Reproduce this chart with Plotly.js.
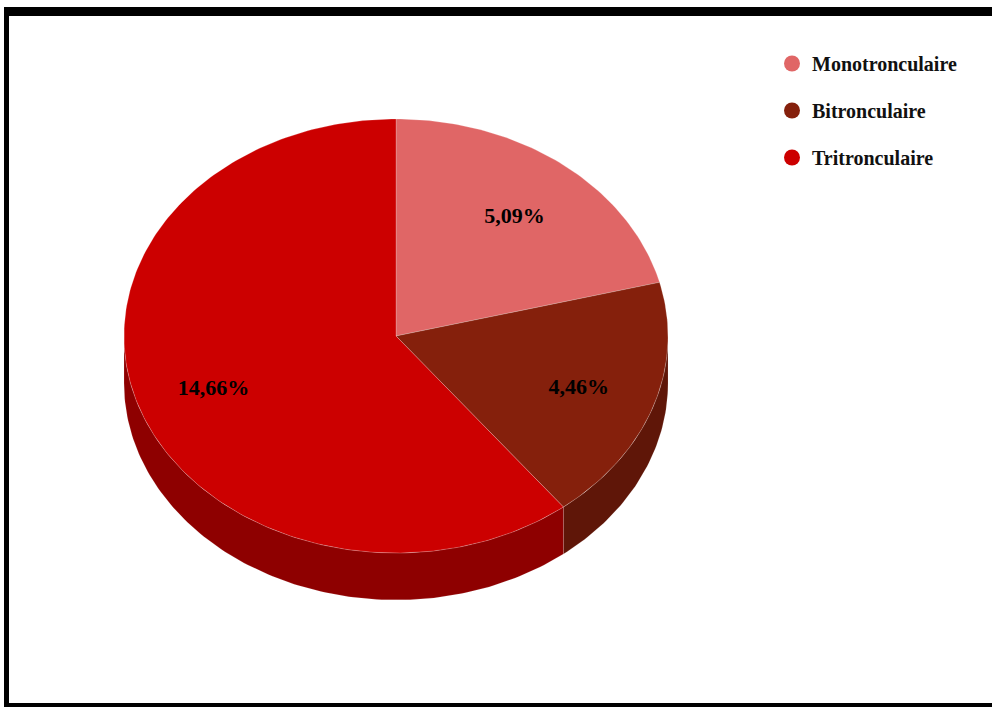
<!DOCTYPE html>
<html><head><meta charset="utf-8">
<script src="https://cdn.plot.ly/plotly-3.0.1.min.js"></script>
<style>html,body{margin:0;padding:0;background:#fff;}#chart{width:992px;height:707px;}</style>
</head><body><div id="chart"></div>
<script>
// ---- data ----
const categories = ["Monotronculaire", "Bitronculaire", "Tritronculaire"];
const values = [5.09, 4.46, 14.66];
const labelTexts = ["5,09%", "4,46%", "14,66%"];
const topColors = ["#e06666", "#85200c", "#cc0000"];
const sideColors = ["#a04848", "#5f1608", "#8e0000"];

// ---- geometry (pixel space) ----
const W = 992, H = 707;
const cx = 396, cy = 336, rx = 272, ry = 217, depth = 47;
const labelFrac = 0.71, labelDy = 3;

const total = values.reduce((a, b) => a + b, 0);
function pt(theta, dy) { // theta in degrees from 12 o'clock, clockwise
  const t = theta * Math.PI / 180;
  return [cx + rx * Math.sin(t), cy - ry * Math.cos(t) + (dy || 0)];
}
const sideTraces = [];
const topTraces = [];
let start = 0;
const labX = [], labY = [];
values.forEach((v, i) => {
  const sweep = v / total * 360;
  const end = start + sweep;
  const xs = [cx], ys = [cy];
  const n = Math.max(4, Math.ceil(sweep));
  for (let k = 0; k <= n; k++) {
    const p = pt(start + sweep * k / n);
    xs.push(p[0]); ys.push(p[1]);
  }
  xs.push(cx); ys.push(cy);
  topTraces.push({
    type: "scatter", mode: "lines", x: xs, y: ys, fill: "toself",
    fillcolor: topColors[i], line: { color: "rgba(255,255,255,0.35)", width: 0.6 },
    hoverinfo: "skip", showlegend: false
  });
  const a = Math.max(start, 90), b = Math.min(end, 270);
  if (b > a) {
    const sx = [], sy = [];
    const m = Math.max(4, Math.ceil(b - a));
    for (let k = 0; k <= m; k++) { const p = pt(a + (b - a) * k / m); sx.push(p[0]); sy.push(p[1]); }
    for (let k = m; k >= 0; k--) { const p = pt(a + (b - a) * k / m, depth); sx.push(p[0]); sy.push(p[1]); }
    sx.push(sx[0]); sy.push(sy[0]);
    sideTraces.push({
      type: "scatter", mode: "lines", x: sx, y: sy, fill: "toself",
      fillcolor: sideColors[i], line: { color: "rgba(255,255,255,0.25)", width: 0.5 },
      hoverinfo: "skip", showlegend: false
    });
  }
  const mid = start + sweep / 2;
  const t = mid * Math.PI / 180;
  labX.push(cx + rx * labelFrac * Math.sin(t));
  labY.push(cy - ry * labelFrac * Math.cos(t) + labelDy);
  start = end;
});

const labelTrace = {
  type: "scatter", mode: "text", x: labX, y: labY, text: labelTexts,
  textposition: "middle center",
  textfont: { family: "Liberation Serif, Times New Roman, serif", size: 22, color: "#000", weight: "bold" },
  hoverinfo: "skip", showlegend: false
};

const legendTraces = categories.map((c, i) => ({
  type: "scatter", mode: "markers", x: [null], y: [null], name: c,
  marker: { symbol: "circle", size: 20, color: topColors[i] },
  legendgroup: "g" + i, showlegend: true, hoverinfo: "skip"
}));

const data = [].concat(sideTraces, topTraces, [labelTrace], legendTraces);

const layout = {
  width: W, height: H,
  margin: { l: 0, r: 0, t: 0, b: 0, pad: 0 },
  paper_bgcolor: "#fff", plot_bgcolor: "#fff",
  xaxis: { range: [0, W], visible: false, fixedrange: true },
  yaxis: { range: [H, 0], visible: false, fixedrange: true },
  showlegend: true,
  legend: {
    x: 772 / W, y: 1 - 44 / H, xanchor: "left", yanchor: "top",
    traceorder: "grouped", tracegroupgap: 18,
    font: { family: "Liberation Serif, Times New Roman, serif", size: 20, color: "#111", weight: "bold" },
    bgcolor: "rgba(0,0,0,0)"
  },
  shapes: [
    { type: "rect", xref: "x", yref: "y", x0: 4, x1: 9, y0: 7, y1: 707, fillcolor: "#000", line: { width: 0 } },
    { type: "rect", xref: "x", yref: "y", x0: 4, x1: 992, y0: 7, y1: 16, fillcolor: "#000", line: { width: 0 } },
    { type: "rect", xref: "x", yref: "y", x0: 4, x1: 992, y0: 703, y1: 707, fillcolor: "#000", line: { width: 0 } }
  ]
};

Plotly.newPlot("chart", data, layout, { displayModeBar: false, staticPlot: true });
</script>
</body></html>
